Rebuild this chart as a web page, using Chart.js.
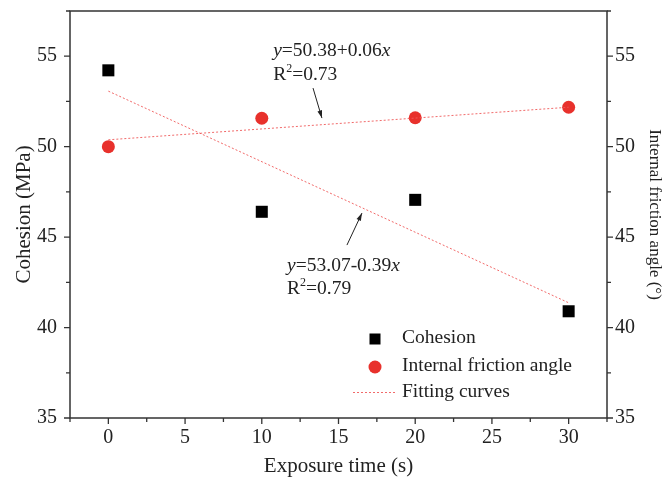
<!DOCTYPE html>
<html>
<head>
<meta charset="utf-8">
<script src="https://cdn.jsdelivr.net/npm/chart.js@4/dist/chart.umd.min.js"></script>
<style>
  html, body { margin: 0; padding: 0; background: #fff; }
  #wrap { width: 663px; height: 481px; }
</style>
</head>
<body>
<div id="wrap"><canvas id="chart"></canvas></div>
<script>
// data
const exposureTime = [0, 10, 20, 30];
const cohesion = [54.22, 46.4, 47.06, 40.9];
const frictionAngle = [50.0, 51.57, 51.6, 52.18];

// fitted lines, end points at 0 s and 30 s
const fitX = [0, 30];
const fitCohesion = [53.07, 41.37];
const fitFriction = [50.38, 52.18];

const xTicks = [0, 5, 10, 15, 20, 25, 30];
const yTicks = [35, 40, 45, 50, 55];

const SERIF = "'Liberation Serif', 'DejaVu Serif', serif";
const INK = "#222";
const RED = "#e8312c";
const FIT = "rgba(240, 90, 90, 0.9)";
const NOTE = "19.5px " + SERIF;

function pts(xs, ys) {
  return xs.map((x, i) => ({ x: x, y: ys[i] }));
}

function stepTicks(from, to, step) {
  const t = [];
  for (let v = from; v <= to + 1e-9; v += step) t.push({ value: v });
  return t;
}

// keep the plot box where the figure has it
function noEdgePadding(s) {
  s.paddingTop = 0;
  s.paddingBottom = 0;
  s.paddingLeft = 0;
  s.paddingRight = 0;
}

// draw frame, tick marks, legend and equation notes
const decorations = {
  id: "decorations",
  afterDraw(chart) {
    const ctx = chart.ctx;
    const a = chart.chartArea;
    const sx = chart.scales.x;
    const sy = chart.scales.y;
    ctx.save();

    // frame
    ctx.strokeStyle = "#333";
    ctx.lineWidth = 1.5;
    ctx.strokeRect(a.left, a.top, a.right - a.left, a.bottom - a.top);

    // tick marks (major longer than minor)
    ctx.lineWidth = 1.3;
    sx.ticks.forEach((t) => {
      const p = sx.getPixelForValue(t.value);
      const len = t.value % 5 === 0 ? 6 : 4;
      ctx.beginPath();
      ctx.moveTo(p, a.bottom);
      ctx.lineTo(p, a.bottom + len);
      ctx.stroke();
    });
    sy.ticks.forEach((t) => {
      const p = sy.getPixelForValue(t.value);
      const len = t.value % 5 === 0 ? 6 : 4;
      ctx.beginPath();
      ctx.moveTo(a.left, p);
      ctx.lineTo(a.left - len, p);
      ctx.moveTo(a.right, p);
      ctx.lineTo(a.right + len, p);
      ctx.stroke();
    });

    // equation notes
    ctx.fillStyle = INK;
    ctx.textBaseline = "middle";
    function equation(text, xv, yv) {
      let x = sx.getPixelForValue(xv);
      const y = sy.getPixelForValue(yv);
      ctx.font = "italic " + NOTE;
      ctx.fillText("y", x, y);
      x += ctx.measureText("y").width;
      ctx.font = NOTE;
      ctx.fillText(text, x, y);
      x += ctx.measureText(text).width;
      ctx.font = "italic " + NOTE;
      ctx.fillText("x", x, y);
    }
    function rsq(text, xv, yv) {
      let x = sx.getPixelForValue(xv);
      const y = sy.getPixelForValue(yv);
      ctx.font = NOTE;
      ctx.fillText("R", x, y);
      x += ctx.measureText("R").width;
      ctx.font = "12px " + SERIF;
      ctx.fillText("2", x, y - 6);
      x += ctx.measureText("2").width;
      ctx.font = NOTE;
      ctx.fillText(text, x, y);
    }
    function arrow(x1, y1, x2, y2) {
      const ax = sx.getPixelForValue(x1), ay = sy.getPixelForValue(y1);
      const bx = sx.getPixelForValue(x2), by = sy.getPixelForValue(y2);
      const ang = Math.atan2(by - ay, bx - ax);
      ctx.strokeStyle = INK;
      ctx.lineWidth = 1;
      ctx.beginPath();
      ctx.moveTo(ax, ay);
      ctx.lineTo(bx, by);
      ctx.stroke();
      ctx.beginPath();
      ctx.moveTo(bx, by);
      ctx.lineTo(bx - 8 * Math.cos(ang - 0.3), by - 8 * Math.sin(ang - 0.3));
      ctx.lineTo(bx - 8 * Math.cos(ang + 0.3), by - 8 * Math.sin(ang + 0.3));
      ctx.closePath();
      ctx.fillStyle = INK;
      ctx.fill();
    }
    equation("=50.38+0.06", 10.74, 55.29);
    rsq("=0.73", 10.74, 53.99);
    arrow(13.34, 53.24, 13.92, 51.58);
    equation("=53.07-0.39", 11.65, 43.4);
    rsq("=0.79", 11.65, 42.13);
    arrow(15.55, 44.56, 16.53, 46.33);

    // legend inside plot
    const lx = 375, tx = 402;
    ctx.fillStyle = "#000";
    ctx.fillRect(lx - 5.5, 339 - 5.5, 11, 11);
    ctx.fillStyle = RED;
    ctx.beginPath();
    ctx.arc(lx, 367, 6.5, 0, Math.PI * 2);
    ctx.fill();
    ctx.strokeStyle = FIT;
    ctx.lineWidth = 1;
    ctx.setLineDash([2, 2]);
    ctx.beginPath();
    ctx.moveTo(353, 392.5);
    ctx.lineTo(397, 392.5);
    ctx.stroke();
    ctx.setLineDash([]);
    ctx.fillStyle = INK;
    ctx.font = NOTE;
    ctx.fillText("Cohesion", tx, 338);
    ctx.fillText("Internal friction angle", tx, 366);
    ctx.fillText("Fitting curves", tx, 392);

    ctx.restore();
  },
};

const ctx = document.getElementById("chart").getContext("2d");

new Chart(ctx, {
  type: "scatter",
  data: {
    datasets: [
      {
        label: "Fitting curves",
        type: "line",
        data: pts(fitX, fitCohesion),
        borderColor: FIT,
        borderWidth: 1,
        borderDash: [2, 2],
        pointRadius: 0,
        yAxisID: "y",
      },
      {
        label: "Fitting curves (angle)",
        type: "line",
        data: pts(fitX, fitFriction),
        borderColor: FIT,
        borderWidth: 1,
        borderDash: [2, 2],
        pointRadius: 0,
        yAxisID: "y2",
      },
      {
        label: "Cohesion",
        data: pts(exposureTime, cohesion),
        pointStyle: "rect",
        pointRadius: 8.5,
        backgroundColor: "#000",
        borderColor: "#000",
        borderWidth: 0,
        yAxisID: "y",
      },
      {
        label: "Internal friction angle",
        data: pts(exposureTime, frictionAngle),
        pointStyle: "circle",
        pointRadius: 6.5,
        backgroundColor: RED,
        borderColor: RED,
        borderWidth: 0,
        yAxisID: "y2",
      },
    ],
  },
  options: {
    responsive: true,
    maintainAspectRatio: false,
    animation: false,
    layout: { padding: { top: 11, left: 0, right: 0, bottom: 0 } },
    scales: {
      x: {
        type: "linear",
        min: -2.5,
        max: 32.5,
        afterBuildTicks(s) { s.ticks = stepTicks(-2.5, 32.5, 2.5); },
        afterFit(s) { s.height = 63; noEdgePadding(s); },
        grid: { drawOnChartArea: false, tickLength: 6, tickColor: "rgba(0,0,0,0)" },
        border: { display: false },
        ticks: {
          color: INK,
          font: { family: SERIF, size: 20 },
          padding: 2,
          maxRotation: 0,
          autoSkip: false,
          callback: (v) => (xTicks.includes(v) ? v : ""),
        },
        title: {
          display: true,
          text: "Exposure time (s)",
          color: INK,
          font: { family: SERIF, size: 21 },
          padding: { bottom: 2.4 },
        },
      },
      y: {
        type: "linear",
        position: "left",
        min: 35,
        max: 57.5,
        afterBuildTicks(s) { s.ticks = stepTicks(35, 57.5, 2.5); },
        afterFit(s) { s.width = 70; noEdgePadding(s); },
        grid: { drawOnChartArea: false, tickLength: 6, tickColor: "rgba(0,0,0,0)" },
        border: { display: false },
        ticks: {
          color: INK,
          font: { family: SERIF, size: 20 },
          padding: 7,
          autoSkip: false,
          callback: (v) => (yTicks.includes(v) ? v : ""),
        },
        title: {
          display: true,
          text: "Cohesion (MPa)",
          color: INK,
          font: { family: SERIF, size: 21 },
          padding: { top: 11.4 },
        },
      },
      y2: {
        type: "linear",
        position: "right",
        min: 35,
        max: 57.5,
        afterBuildTicks(s) { s.ticks = stepTicks(35, 57.5, 2.5); },
        afterFit(s) { s.width = 56; noEdgePadding(s); },
        grid: { drawOnChartArea: false, tickLength: 6, tickColor: "rgba(0,0,0,0)" },
        border: { display: false },
        ticks: {
          color: INK,
          font: { family: SERIF, size: 20 },
          padding: 2,
          autoSkip: false,
          callback: (v) => (yTicks.includes(v) ? v : ""),
        },
        title: {
          display: true,
          text: "Internal friction angle (°)",
          color: INK,
          font: { family: SERIF, size: 17, lineHeight: 1 },
          padding: { top: 0 },
        },
      },
    },
    plugins: {
      legend: { display: false },
      tooltip: { enabled: false },
    },
  },
  plugins: [decorations],
});
</script>
</body>
</html>
